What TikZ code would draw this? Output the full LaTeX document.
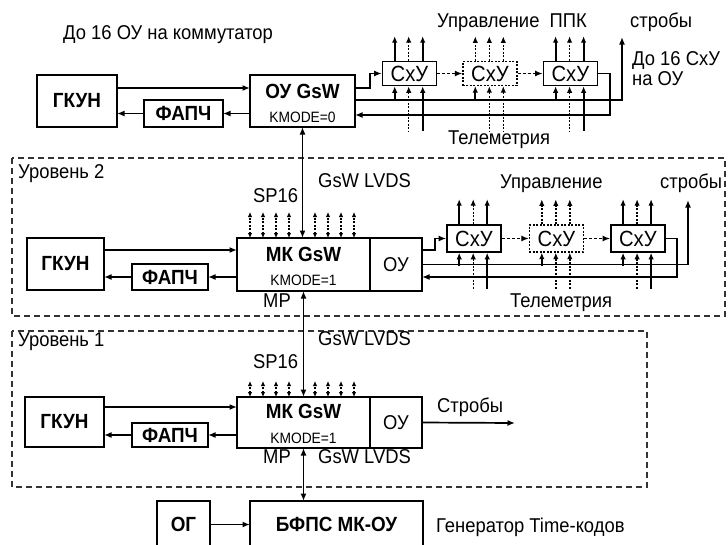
\documentclass[tikz,border=0pt]{standalone}
\usepackage{fontspec}
\setmainfont{Liberation Sans}[FakeStretch=0.92]
\usetikzlibrary{positioning,arrows.meta,calc}

\begin{document}
\begin{tikzpicture}[
    x=1pt, y=-1pt,
    >={Latex[length=7.5pt,width=6pt]},
    font=\fontsize{20}{24}\selectfont,
    blk/.style={draw, line width=1.6pt, inner sep=0pt, outer sep=0pt,
      font=\fontsize{20.5}{24}\selectfont\bfseries},
    cxu/.style={draw, line width=1.6pt, inner sep=0pt, minimum width=54pt,
      minimum height=24pt, font=\fontsize{22}{24}\selectfont},
    dbox/.style={cxu, line width=1.3pt, dash pattern=on 2pt off 1.5pt},
    txt/.style={inner sep=0pt, anchor=base west},
    kmode/.style={inner sep=0pt, anchor=base, font=\fontsize{15}{18}\selectfont},
    arr/.style={->, line width=1.7pt},
    darr/.style={->, line width=1.3pt, dash pattern=on 3pt off 2pt},
    frame/.style={line width=1.3pt, black!80, dash pattern=on 6pt off 4pt},
    sl/.style={line width=2pt},
    dl/.style={line width=1.4pt, dash pattern=on 2pt off 1.5pt},
    tip/.style={-{Latex[length=6.5pt,width=5.5pt]}},
    rtip/.style={{Latex[length=6.5pt,width=5.5pt]}-},
    sp/.style={{Latex[length=5pt,width=4.5pt]}-{Latex[length=5pt,width=4.5pt]},
      line width=1.3pt, dash pattern=on 2pt off 1.5pt},
  ]
\useasboundingbox (0,0) rectangle (728,544);

% Level frames
\draw[frame] (12,158) rectangle (725,316);
\draw[frame] (12,331) rectangle (647,487);
\node[txt] (lev2) at (18,178) {Уровень 2};
\node[txt] (lev1) at (18,346) {Уровень 1};

% Top: switch node
\node[txt] (t16ou) at (63,39) {До 16 ОУ на коммутатор};
\node[blk, minimum width=80pt, minimum height=52pt] (gkun0) at (77,101) {ГКУН};
\node[blk, minimum width=79pt, minimum height=27pt] (fapch0) at (183.5,113.5) {ФАПЧ};
\node[blk, minimum width=105pt, minimum height=52pt] (ougsw) at (302.5,101) {};
\node[kmode, font=\fontsize{20.5}{24}\selectfont\bfseries] (ougswT) at ($(ougsw.north)+(0,23)$) {ОУ GsW};
\node[kmode] (km0) at ($(ougsw.north)+(0,47)$) {KMODE=0};

% Top chain of CxY
\node[cxu] (cxa1) at (409.5,73.5) {СхУ};
\node[dbox, right=25pt of cxa1] (cxa2) {СхУ};
\node[cxu, right=25pt of cxa2] (cxa3) {СхУ};
\coordinate (strba) at (622,37);
\node[txt] (upra) at (437,27) {Управление\ \ ППК};
\node[txt] (stra) at (630,27) {стробы};
\node[txt] (n16a) at (632,65) {До 16 СхУ};
\node[txt] (n16b) at (632,85) {на ОУ};
\node[txt] (tlma) at (448,144) {Телеметрия};

% Level 2
\node[blk, minimum width=77pt, minimum height=52pt] (gkun2) at (65.5,264) {ГКУН};
\node[blk, minimum width=76pt, minimum height=26pt] (fapch2) at (170,277) {ФАПЧ};
\node[blk, minimum width=133pt, minimum height=53pt] (mk2) at (303.5,264.5) {};
\node[blk, minimum width=52pt, minimum height=53pt, right=0pt of mk2,
      font=\fontsize{20}{24}\selectfont] (ou2) {ОУ};
\node[kmode, font=\fontsize{20.5}{24}\selectfont\bfseries] (mk2T) at ($(mk2.north)+(0,23)$) {МК GsW};
\node[kmode] (km2) at ($(mk2.north)+(0,47)$) {KMODE=1};
\node[txt] (sp2) at (253,202) {SP16};
\node[txt] (lvds2) at (318,187) {GsW LVDS};
\node[txt] (mp2) at (263,307) {MP};
\node[cxu, minimum height=27pt] (cxb1) at (474,238.5) {СхУ};
\node[dbox, minimum height=27pt, right=27pt of cxb1] (cxb2) {СхУ};
\node[cxu, minimum height=27pt, right=26pt of cxb2] (cxb3) {СхУ};
\coordinate (strbb) at (688,200);
\node[txt] (uprb) at (500,188) {Управление};
\node[txt] (strb) at (660,188) {стробы};
\node[txt] (tlmb) at (510,307) {Телеметрия};

% Level 1
\node[blk, minimum width=79pt, minimum height=50pt] (gkun1) at (64.5,422) {ГКУН};
\node[blk, minimum width=76pt, minimum height=24pt] (fapch1) at (170,435) {ФАПЧ};
\node[blk, minimum width=133pt, minimum height=51pt] (mk1) at (303.5,422.5) {};
\node[blk, minimum width=52pt, minimum height=51pt, right=0pt of mk1,
      font=\fontsize{20}{24}\selectfont] (ou1) {ОУ};
\node[kmode, font=\fontsize{20.5}{24}\selectfont\bfseries] (mk1T) at ($(mk1.north)+(0,21)$) {МК GsW};
\node[kmode] (km1) at ($(mk1.north)+(0,46)$) {KMODE=1};
\node[txt] (lvds1) at (318,345) {GsW LVDS};
\node[txt] (sp1) at (253,368) {SP16};
\node[txt] (strc) at (437,412) {Стробы};
\coordinate (strb1) at (515,423);
\node[txt] (mp1) at (263,463) {MP};
\node[txt] (lvds0) at (318,463) {GsW LVDS};

% Bottom: time code generator
\node[blk, minimum width=53pt, minimum height=47pt] (og) at (183.5,524.5) {ОГ};
\node[blk, minimum width=173pt, minimum height=47pt] (bfps) at (336.5,524.5) {БФПС МК-ОУ};
\node[txt] (gen) at (436,532) {Генератор Time-кодов};

% Arrows -- clock loops
\draw[arr] ([yshift=13pt]gkun0.east) -- ([yshift=13pt]gkun0.east -| ougsw.west);
\draw[arr] (ougsw.west |- fapch0) -- (fapch0);
\draw[arr] (fapch0) -- (fapch0 -| gkun0.east);
\draw[arr] ([yshift=14pt]gkun2.east) -- ([yshift=14pt]gkun2.east -| mk2.west);
\draw[arr] (mk2.west |- fapch2) -- (fapch2);
\draw[arr] (fapch2) -- (fapch2 -| gkun2.east);
\draw[arr] ([yshift=15pt]gkun1.east) -- ([yshift=15pt]gkun1.east -| mk1.west);
\draw[arr] (mk1.west |- fapch1) -- (fapch1);
\draw[arr] (fapch1) -- (fapch1 -| gkun1.east);

% Arrows -- GsW LVDS backbone
\draw[<->, line width=1.7pt] (ougsw.south) -- (ougsw.south |- mk2.north);
\draw[<->, line width=1.7pt] (mk2.south) -- (mk1.north);
\draw[<->, line width=1.7pt] (mk1.south) -- (mk1.south |- bfps.north);
\draw[arr] (og) -- (bfps);

% SP16 lines
\foreach \k in {1,2,3,4,6,7,8,9} {
  \draw[sp] ([xshift=\k*13pt]mk2.north west) -- ++(0,-26);
  \draw[sp] ([xshift=\k*13pt]mk1.north west) -- ++(0,-16);
}

% Top chain wiring
\draw[arr] ([yshift=13pt]ougsw.east) -- ++(15,0) |- (cxa1.west);
\draw[arr] ([yshift=1pt]ougsw.east) -| (strba);
\draw[arr] (cxa3.east) -- ++(12,0) |- ([yshift=-14pt]ougsw.east);
\draw[darr] (cxa1) -- (cxa2);
\draw[darr] (cxa2) -- (cxa3);
\foreach \b/\ua/\ub/\uc/\db/\dc in {cxa1/sl/dl/sl/dl/sl, cxa2/dl/dl/dl/dl/dl, cxa3/sl/dl/sl/dl/sl} {
  \draw[tip, \ua] ([xshift=13pt]\b.north west) -- ++(0,-24.5);
  \draw[tip, \ub] ([xshift=27pt]\b.north west) -- ++(0,-24.5);
  \draw[tip, \uc] ([xshift=41pt]\b.north west) -- ++(0,-24.5);
  \draw[rtip, sl] ([xshift=13pt]\b.south west) -- ++(0,14.5);
  \draw[rtip, \db] ([xshift=27pt]\b.south west) -- ++(0,44.5);
  \draw[rtip, \dc] ([xshift=41pt]\b.south west) -- ++(0,44.5);
}

% Level 2 chain wiring
\draw[arr] ([yshift=14.5pt]ou2.east) -- ++(13,0) |- (cxb1.west);
\draw[arr] (ou2.east) -| (strbb);
\draw[arr] (cxb3.east) -- ++(11,0) |- ([yshift=-12.5pt]ou2.east);
\draw[darr] (cxb1) -- (cxb2);
\draw[darr] (cxb2) -- (cxb3);
\foreach \b/\ua/\ub/\uc/\db/\dc in {cxb1/sl/dl/sl/dl/sl, cxb2/dl/dl/dl/dl/dl, cxb3/sl/dl/sl/dl/sl} {
  \draw[tip, \ua] ([xshift=13pt]\b.north west) -- ++(0,-25);
  \draw[tip, \ub] ([xshift=27pt]\b.north west) -- ++(0,-25);
  \draw[tip, \uc] ([xshift=41pt]\b.north west) -- ++(0,-25);
  \draw[rtip, sl] ([xshift=13pt]\b.south west) -- ++(0,13);
  \draw[rtip, \db] ([xshift=27pt]\b.south west) -- ++(0,36);
  \draw[rtip, \dc] ([xshift=41pt]\b.south west) -- ++(0,36);
}

% Level 1 strobes
\draw[arr] (ou1.east) -- (strb1);

\end{tikzpicture}
\end{document}
